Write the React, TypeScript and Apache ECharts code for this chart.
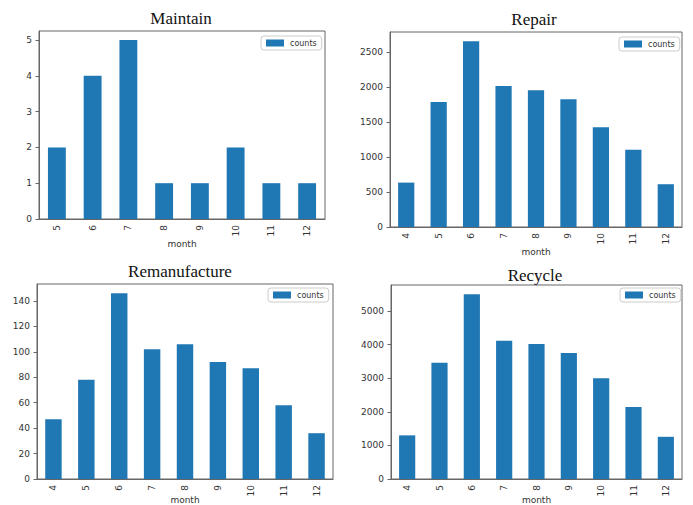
import React, { useEffect, useRef } from "react";
import * as echarts from "echarts";

const titles = ["Maintain", "Repair", "Remanufacture", "Recycle"];
const maintainMonths = ["5", "6", "7", "8", "9", "10", "11", "12"];
const maintainCounts = [2, 4, 5, 1, 1, 2, 1, 1];
const months = ["4", "5", "6", "7", "8", "9", "10", "11", "12"];
const repairCounts = [635, 1788, 2657, 2016, 1955, 1827, 1428, 1105, 612];
const remanufactureCounts = [47, 78, 146, 102, 106, 92, 87, 58, 36];
const recycleCounts = [1300, 3467, 5505, 4120, 4020, 3752, 3000, 2148, 1257];
const maintainTicks = [0, 1, 2, 3, 4, 5];
const repairTicks = [0, 500, 1000, 1500, 2000, 2500];
const remanufactureTicks = [0, 20, 40, 60, 80, 100, 120, 140];
const recycleTicks = [0, 1000, 2000, 3000, 4000, 5000];

const panels = [
  { cats: maintainMonths, vals: maintainCounts, ticks: maintainTicks, interval: 1, nameGap: 20,
    grid: { left: 39, top: 31, width: 286, height: 188 }, title: [181, 18], legend: [261, 36] },
  { cats: months, vals: repairCounts, ticks: repairTicks, interval: 500, nameGap: 20,
    grid: { left: 390, top: 32, width: 292, height: 195 }, title: [534, 19], legend: [619, 37] },
  { cats: months, vals: remanufactureCounts, ticks: remanufactureTicks, interval: 20, nameGap: 16,
    grid: { left: 37, top: 284, width: 296, height: 195 }, title: [180, 271], legend: [268, 288] },
  { cats: months, vals: recycleCounts, ticks: recycleTicks, interval: 1000, nameGap: 16,
    grid: { left: 391, top: 285, width: 291, height: 194 }, title: [535, 275], legend: [620, 288] },
];

const axisColor = "#666";
const textColor = "#333";
const sans = "DejaVu Sans";

export default function App() {
  const ref = useRef<HTMLDivElement>(null);
  useEffect(() => {
    document.body.style.margin = "0";
    const chart = echarts.init(ref.current!, null, { renderer: "svg" });
    const option: any = {
      animation: false,
      backgroundColor: "#fff",
      grid: panels.map((p) => ({
        ...p.grid,
        show: true,
        borderColor: axisColor,
        borderWidth: 1,
        backgroundColor: "transparent",
        containLabel: false,
        outerBoundsMode: "none",
      })),
      xAxis: panels.map((p, i) => ({
        type: "category",
        gridIndex: i,
        data: p.cats,
        boundaryGap: true,
        name: "month",
        nameLocation: "middle",
        nameGap: p.nameGap,
        nameMoveOverlap: false,
        nameTextStyle: { fontFamily: sans, fontSize: 9, color: textColor },
        axisLine: { lineStyle: { color: axisColor, width: 1 } },
        axisTick: { alignWithLabel: true, length: 3.5, lineStyle: { color: axisColor } },
        axisLabel: { rotate: 90, margin: 6, fontFamily: sans, fontSize: 9, color: textColor, interval: 0 },
        splitLine: { show: false },
      })),
      yAxis: panels.map((p, i) => ({
        type: "value",
        gridIndex: i,
        min: 0,
        max: Math.max(...p.vals) * 1.05,
        interval: p.interval,
        axisLine: { show: true, lineStyle: { color: axisColor, width: 1 } },
        axisTick: { show: true, length: 3.5, lineStyle: { color: axisColor }, customValues: p.ticks },
        axisLabel: {
          margin: 7,
          fontFamily: sans,
          fontSize: 9,
          color: textColor,
          customValues: p.ticks,
          formatter: (v: number) => String(v),
        },
        splitLine: { show: false },
      })),
      legend: panels.map((p) => ({
        left: p.legend[0],
        top: p.legend[1],
        data: ["counts"],
        icon: "rect",
        itemWidth: 18,
        itemHeight: 7,
        itemGap: 5,
        padding: [3, 5, 3, 5],
        borderColor: "#ccc",
        borderWidth: 1,
        borderRadius: 3,
        backgroundColor: "#fff",
        selectedMode: false,
        textStyle: { fontFamily: sans, fontSize: 8, color: textColor, padding: [0, 0, 0, 1] },
      })),
      series: panels.map((p, i) => ({
        type: "bar",
        name: "counts",
        xAxisIndex: i,
        yAxisIndex: i,
        data: p.vals,
        barWidth: "50%",
        itemStyle: { color: "#1f77b4" },
      })),
      graphic: panels.map((p, i) => ({
        type: "text",
        x: p.title[0],
        y: p.title[1],
        style: {
          text: titles[i],
          fontFamily: "Liberation Serif",
          fontSize: 17,
          fill: "#111",
          textAlign: "center",
          textVerticalAlign: "middle",
        },
      })),
    };
    chart.setOption(option);
    return () => chart.dispose();
  }, []);
  return <div ref={ref} style={{ position: "absolute", left: 0, top: 0, width: 693, height: 505 }} />;
}
